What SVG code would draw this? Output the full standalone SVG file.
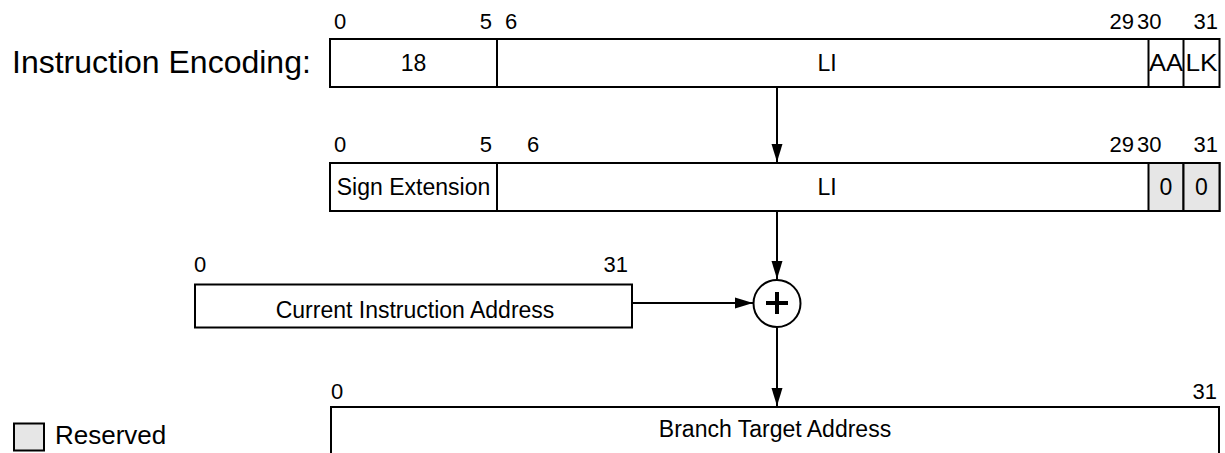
<svg xmlns="http://www.w3.org/2000/svg" width="1225" height="453" viewBox="0 0 1225 453">
<style>
text{font-family:"Liberation Sans",Arial,sans-serif;fill:#000}
.box{fill:#fff;stroke:#000;stroke-width:2}
.res{fill:#e6e6e6;stroke:#000;stroke-width:2}
.bit{font-size:22px}
.fld{font-size:23px;text-anchor:middle}
.ln{stroke:#000;stroke-width:2;fill:none}
</style>
<defs>
<marker id="ah" markerUnits="userSpaceOnUse" markerWidth="18" markerHeight="12" refX="18" refY="6" orient="auto">
<path d="M0,0.5 L18,6 L0,11.5 z" fill="#000"/>
</marker>
</defs>
<rect width="1225" height="453" fill="#fff"/>
<text x="12" y="73" style="font-size:32px">Instruction Encoding:</text>
<g id="instr">
<rect class="box" x="330" y="39" width="889.5" height="48"/>
<line class="ln" x1="497" y1="39" x2="497" y2="87"/>
<line class="ln" x1="1148.5" y1="39" x2="1148.5" y2="87"/>
<line class="ln" x1="1183.5" y1="39" x2="1183.5" y2="87"/>
<text class="bit" x="334" y="29">0</text>
<text class="bit" x="492" y="29" text-anchor="end">5</text>
<text class="bit" x="505" y="29">6</text>
<text class="bit" x="1134" y="29" text-anchor="end">29</text>
<text class="bit" x="1137" y="29">30</text>
<text class="bit" x="1218" y="29" text-anchor="end">31</text>
<text class="fld" x="413.5" y="71">18</text>
<text class="fld" x="827" y="71">LI</text>
<text class="fld" x="1166" y="71" textLength="34" lengthAdjust="spacingAndGlyphs">AA</text>
<text class="fld" x="1201.5" y="71" textLength="32" lengthAdjust="spacingAndGlyphs">LK</text>
</g>
<g id="extended">
<rect class="box" x="330" y="163" width="889.5" height="48"/>
<line class="ln" x1="497" y1="163" x2="497" y2="211"/>
<rect class="res" x="1148.5" y="163" width="35" height="48"/>
<rect class="res" x="1183.5" y="163" width="36" height="48"/>
<text class="bit" x="334" y="152">0</text>
<text class="bit" x="492" y="152" text-anchor="end">5</text>
<text class="bit" x="527" y="152">6</text>
<text class="bit" x="1134" y="152" text-anchor="end">29</text>
<text class="bit" x="1137" y="152">30</text>
<text class="bit" x="1218" y="152" text-anchor="end">31</text>
<text class="fld" x="413.5" y="195">Sign Extension</text>
<text class="fld" x="827" y="195">LI</text>
<text class="fld" x="1166" y="195">0</text>
<text class="fld" x="1201.5" y="195">0</text>
</g>
<g id="cia">
<rect class="box" x="195" y="284.5" width="437" height="43"/>
<text class="bit" x="194" y="272">0</text>
<text class="bit" x="628" y="272" text-anchor="end">31</text>
<text class="fld" x="415" y="318">Current Instruction Address</text>
</g>
<g id="adder">
<circle cx="777" cy="303.5" r="23.5" fill="#fff" stroke="#000" stroke-width="2"/>
<line x1="766" y1="303" x2="788" y2="303" stroke="#000" stroke-width="4"/>
<line x1="777" y1="292" x2="777" y2="314" stroke="#000" stroke-width="4"/>
</g>
<g id="bta">
<rect class="box" x="331" y="407" width="888" height="60"/>
<text class="bit" x="331" y="399">0</text>
<text class="bit" x="1217" y="399" text-anchor="end">31</text>
<text class="fld" x="775" y="437">Branch Target Address</text>
</g>
<g id="legend">
<rect class="res" x="14" y="423.5" width="30" height="27"/>
<text x="55" y="444" style="font-size:26px">Reserved</text>
</g>
<g id="connectors">
<line class="ln" x1="777" y1="88" x2="777" y2="162" marker-end="url(#ah)"/>
<line class="ln" x1="777" y1="212" x2="777" y2="279" marker-end="url(#ah)"/>
<line class="ln" x1="777" y1="328" x2="777" y2="406" marker-end="url(#ah)"/>
<line class="ln" x1="633" y1="303" x2="753" y2="303" marker-end="url(#ah)"/>
</g>
</svg>
